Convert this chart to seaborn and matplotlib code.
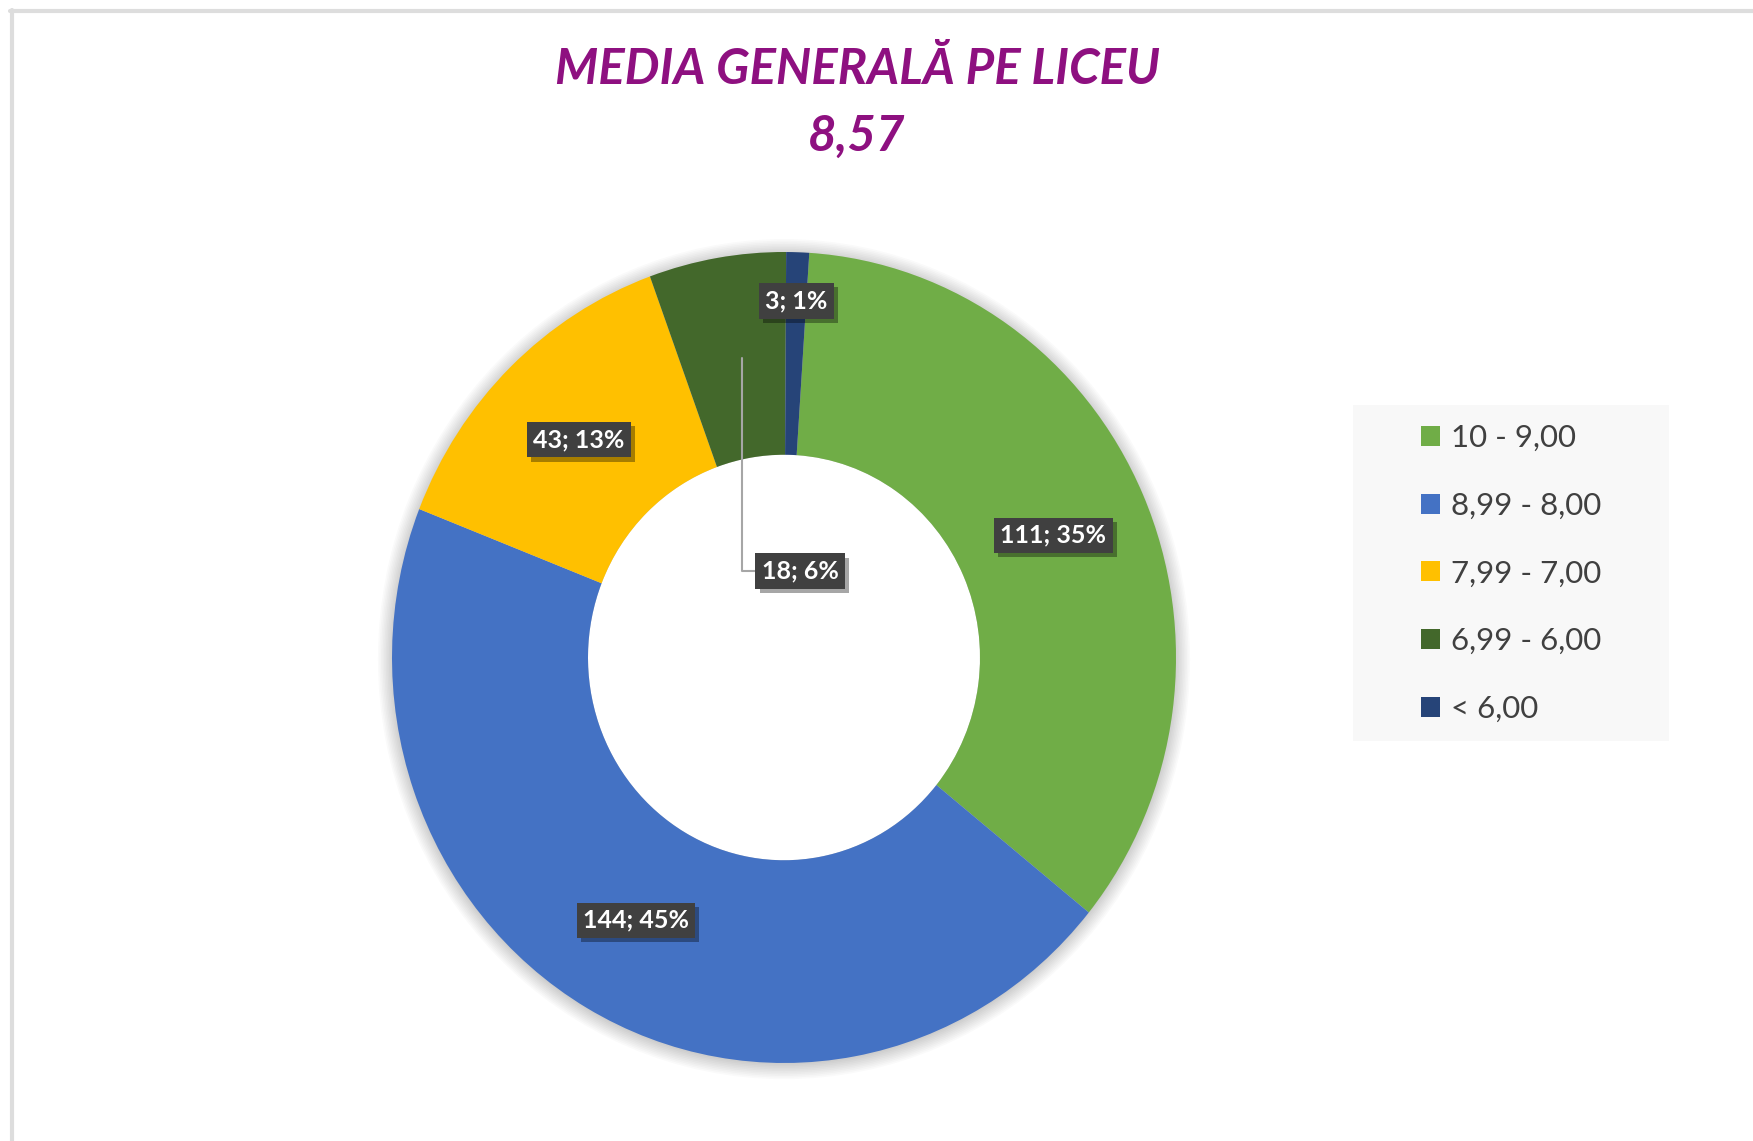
import seaborn as sns
import matplotlib.pyplot as plt
import matplotlib.patheffects as pe
from matplotlib.patches import Rectangle, Ellipse
from matplotlib.lines import Line2D
import numpy as np

# data
categories = ['10 - 9,00', '8,99 - 8,00', '7,99 - 7,00', '6,99 - 6,00', '< 6,00']
counts = [111, 144, 43, 18, 3]
percents = ['35%', '45%', '13%', '6%', '1%']
colors = ['#70AD47', '#4472C4', '#FFC000', '#43682B', '#264478']
title_line1 = 'MEDIA GENERALĂ PE LICEU'
title_line2 = '8,57'

sns.set_theme(style='white')
plt.rcParams['font.family'] = ['Lato', 'DejaVu Sans']

W, H = 1753, 1141
fig = plt.figure(figsize=(W / 100, H / 100), dpi=100)
fig.patch.set_facecolor('white')

# donut axes: centre (784, 657.5) px, slightly taller than wide
RX, RY = 392, 405.5
cx, cy = 784, 657.5
span = 1.2
ax = fig.add_axes([(cx - span * RX) / W, (H - cy - span * RY) / H, 2 * span * RX / W, 2 * span * RY / H])

# soft shadow behind the ring
for k in range(10):
    ax.add_patch(Ellipse((0, -0.004), 2 * (1 + 0.004 * k), 2 * (1 + 0.004 * k), facecolor='#000000',
                         alpha=0.018, edgecolor='none', zorder=0))

wedges, _ = ax.pie(counts, colors=colors, startangle=86.3, counterclock=False,
                   wedgeprops=dict(width=0.5, edgecolor='none', zorder=2))
ax.add_patch(Ellipse((0, 0), 1.0, 1.0, facecolor='white', edgecolor='none', zorder=1))
ax.set_xlim(-span, span)
ax.set_ylim(-span, span)
ax.set_aspect('auto')
ax.axis('off')

box = dict(boxstyle='square,pad=0.25', facecolor='#404040', edgecolor='none')
shadow = [pe.SimplePatchShadow(offset=(3, -3), shadow_rgbFace='black', alpha=0.35), pe.Normal()]
lab_kw = dict(ha='center', va='center', color='white', fontsize=18, fontweight='bold', bbox=box, zorder=5)

for i, w in enumerate(wedges):
    mid = np.deg2rad((w.theta1 + w.theta2) / 2)
    label = f'{counts[i]}; {percents[i]}'
    if i == 3:
        # leader line from the wedge to a label inside the hole
        t = ax.annotate(label, xy=(0.75 * np.cos(mid) + 0.02, 0.75 * np.sin(mid)), xytext=(0.041, 0.213),
                        arrowprops=dict(arrowstyle='-', color='#A6A6A6', lw=1.5,
                                        connectionstyle='angle,angleA=0,angleB=90,rad=0',
                                        shrinkA=0, shrinkB=0), **lab_kw)
    elif i == 4:
        t = ax.text(0.9 * np.cos(mid), 0.88 * np.sin(mid), label, **lab_kw)
    else:
        t = ax.text(0.75 * np.cos(mid), 0.75 * np.sin(mid), label, **lab_kw)
    t.get_bbox_patch().set_path_effects(shadow)

# title
fig.text(857 / W, 1 - 69 / H, title_line1, ha='center', va='center', fontsize=35.5,
         fontweight='bold', fontstyle='italic', color='#8E1080')
fig.text(857 / W, 1 - 136 / H, title_line2, ha='center', va='center', fontsize=35.5,
         fontweight='bold', fontstyle='italic', color='#8E1080')

# legend background
fig.add_artist(Rectangle((1353 / W, 1 - 741 / H), 316 / W, 336 / H, transform=fig.transFigure,
                         facecolor='#F8F8F8', edgecolor='none', zorder=0))
fig.legend(wedges, categories, loc='upper left', bbox_to_anchor=(1421 / W, 1 - 424 / H),
           frameon=False, fontsize=22.5, labelcolor='#404040', handlelength=0.6, handleheight=0.6,
           handletextpad=0.35, labelspacing=1.27, borderpad=0, borderaxespad=0)

# outer frame lines (top and left)
fig.add_artist(Line2D([10 / W, 1], [1 - 11 / H, 1 - 11 / H], transform=fig.transFigure,
                      color='#DDDDDD', lw=3))
fig.add_artist(Line2D([12 / W, 12 / W], [0, 1 - 10 / H], transform=fig.transFigure,
                      color='#DDDDDD', lw=3))

fig.savefig('out.png', dpi=100)
